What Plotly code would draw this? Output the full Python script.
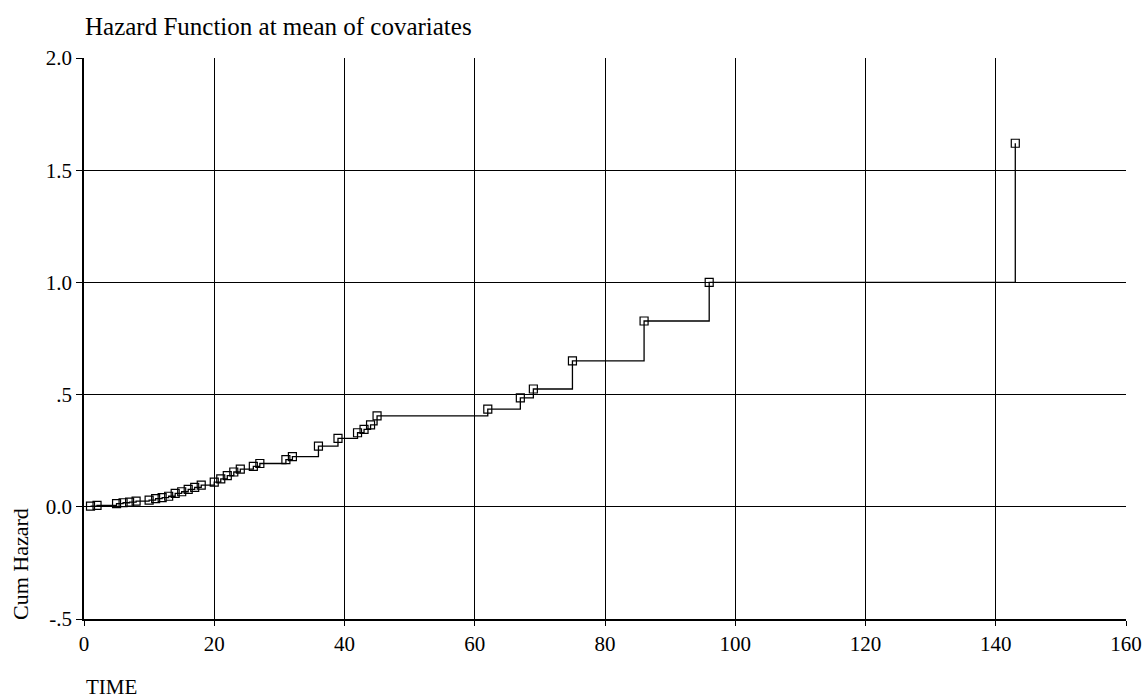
import plotly.graph_objects as go

# Data
time = [1, 2, 5, 6, 7, 8, 10, 11, 12, 13, 14, 15, 16, 17, 18, 20, 21, 22, 23, 24,
        26, 27, 31, 32, 36, 39, 42, 43, 44, 45, 62, 67, 69, 75, 86, 96, 143]
cum_hazard = [0.003, 0.006, 0.014, 0.018, 0.021, 0.025, 0.030, 0.036, 0.041, 0.047,
              0.060, 0.067, 0.078, 0.087, 0.097, 0.110, 0.124, 0.139, 0.155, 0.168,
              0.180, 0.193, 0.210, 0.224, 0.270, 0.305, 0.330, 0.345, 0.365, 0.405,
              0.435, 0.485, 0.525, 0.650, 0.828, 1.000, 1.620]

x_ticks = [0, 20, 40, 60, 80, 100, 120, 140, 160]
y_ticks = [-0.5, 0.0, 0.5, 1.0, 1.5, 2.0]
y_tick_labels = ["-.5", "0.0", ".5", "1.0", "1.5", "2.0"]

FONT = "Liberation Serif"

fig = go.Figure()
fig.add_trace(go.Scatter(
    x=time, y=cum_hazard,
    mode="lines+markers",
    line=dict(shape="hv", color="black", width=1.3),
    marker=dict(symbol="square-open", size=8, color="black", line=dict(width=1.2)),
    showlegend=False,
))

fig.update_layout(
    width=1144, height=698,
    margin=dict(l=84, r=18, t=58, b=79, autoexpand=False),
    paper_bgcolor="white", plot_bgcolor="white",
    font=dict(family=FONT, size=21, color="black"),
    title=dict(text="Hazard Function at mean of covariates",
               x=85 / 1144, xanchor="left", xref="container",
               y=1 - 26 / 698, yanchor="middle", yref="container",
               font=dict(family=FONT, size=25, color="black")),
    xaxis=dict(range=[0, 160], tickvals=x_ticks, showgrid=True, gridcolor="black",
               gridwidth=1.3, showline=True, linecolor="black", linewidth=1.8,
               ticks="outside", ticklen=5, tickcolor="black", zeroline=False,
               automargin=False, ticklabeloverflow="allow",
               tickfont=dict(family=FONT, size=21)),
    yaxis=dict(range=[-0.5, 2.0], tickvals=y_ticks, ticktext=y_tick_labels,
               showgrid=True, gridcolor="black", gridwidth=1.3, showline=True,
               linecolor="black", linewidth=1.6, ticks="outside", ticklen=6,
               tickcolor="black", zeroline=False, automargin=False,
               tickfont=dict(family=FONT, size=21)),
    annotations=[
        dict(text="Cum Hazard", xref="paper", yref="paper",
             x=(20 - 84) / 1042, y=(619 - 564) / 561, textangle=-90,
             xanchor="center", yanchor="middle", showarrow=False,
             font=dict(family=FONT, size=22)),
        dict(text="TIME", xref="paper", yref="paper",
             x=(84 - 84) / 1042, y=(619 - 687) / 561,
             xanchor="left", yanchor="middle", showarrow=False,
             font=dict(family=FONT, size=21)),
    ],
)

fig.write_html("out.html")
